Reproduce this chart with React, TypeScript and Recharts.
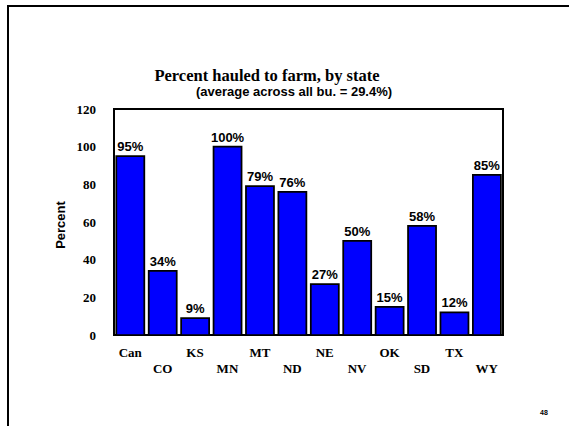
import { Bar, BarChart, LabelList, ReferenceArea, XAxis, YAxis } from 'recharts';

const states = ['Can', 'CO', 'KS', 'MN', 'MT', 'ND', 'NE', 'NV', 'OK', 'SD', 'TX', 'WY'];
const percentHauled = [95, 34, 9, 100, 79, 76, 27, 50, 15, 58, 12, 85];
const yTicks = [0, 20, 40, 60, 80, 100, 120];

const data = states.map((state, i) => ({ state, value: percentHauled[i] }));

const serif = '"Liberation Serif", "Times New Roman", serif';
const sans = '"Liberation Sans", Arial, sans-serif';

// alternate rows so the state codes don't collide
function StateTick(props: any) {
  const { x, y, payload, index } = props;
  const dy = index % 2 === 0 ? 22 : 38;
  return (
    <text x={x} y={y + dy} textAnchor="middle" fontFamily={serif} fontWeight="bold" fontSize={13} fill="#000">
      {payload.value}
    </text>
  );
}

export default function App() {
  return (
    <div style={{ position: 'absolute', left: 0, top: 0, width: 569, height: 426, background: '#fff' }}>
      <BarChart
        width={569}
        height={426}
        data={data}
        margin={{ top: 109, right: 66, bottom: 41, left: 0 }}
        barCategoryGap={2.3}
      >
        <XAxis
          dataKey="state"
          axisLine={false}
          tickLine={false}
          tickSize={0}
          tickMargin={0}
          height={50}
          interval={0}
          tick={<StateTick />}
        />
        <YAxis
          domain={[0, 120]}
          ticks={yTicks}
          axisLine={false}
          tickLine={false}
          tickSize={0}
          tickMargin={18}
          width={114}
          tick={{ fontFamily: serif, fontWeight: 'bold', fontSize: 13, fill: '#000' }}
        />
        <ReferenceArea y1={0} y2={120} fill="none" stroke="#000" strokeWidth={2} ifOverflow="visible" />
        <Bar dataKey="value" fill="#0000FF" stroke="#000" strokeWidth={1.75} isAnimationActive={false}>
          <LabelList
            dataKey="value"
            position="top"
            offset={5}
            formatter={(v: any) => `${v}%`}
            style={{ fontFamily: sans, fontWeight: 'bold', fontSize: 13, fill: '#000' }}
          />
        </Bar>
      </BarChart>
      <svg
        width={569}
        height={426}
        style={{ position: 'absolute', left: 0, top: 0, pointerEvents: 'none' }}
      >
        <line x1={8} y1={6} x2={569} y2={6} stroke="#000" strokeWidth={2} />
        <line x1={8} y1={5} x2={8} y2={426} stroke="#000" strokeWidth={2} />
        <text x={267} y={81} textAnchor="middle" fontFamily={serif} fontWeight="bold" fontSize={16.5} fill="#000">
          Percent hauled to farm, by state
        </text>
        <text x={294} y={96} textAnchor="middle" fontFamily={sans} fontWeight="bold" fontSize={13} fill="#000">
          (average across all bu. = 29.4%)
        </text>
        <text
          x={0}
          y={0}
          transform="translate(65 225) rotate(-90)"
          textAnchor="middle"
          fontFamily={sans}
          fontWeight="bold"
          fontSize={13}
          fill="#000"
        >
          Percent
        </text>
        <text x={544} y={415} textAnchor="middle" fontFamily={sans} fontWeight="bold" fontSize={7} fill="#000">
          48
        </text>
      </svg>
    </div>
  );
}
